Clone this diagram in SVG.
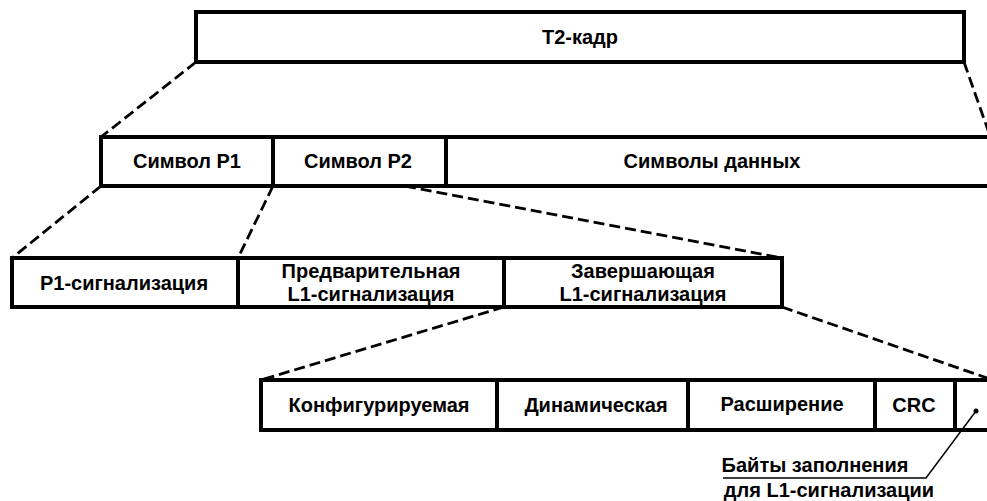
<svg xmlns="http://www.w3.org/2000/svg" width="987" height="501" viewBox="0 0 987 501">
<style>
.box{fill:#fff;stroke:#000;stroke-width:4}
.div{stroke:#000;stroke-width:4}
.dash{stroke:#000;stroke-width:2.8;stroke-dasharray:11 5;fill:none}
.t{font-family:"Liberation Sans",Arial,sans-serif;font-size:20px;font-weight:bold;text-anchor:middle;fill:#000}
.lead{stroke:#000;stroke-width:1.5;fill:none}
</style>
<rect width="987" height="501" fill="#fff"/>
<g id="connectors">
<line class="dash" x1="196" y1="62" x2="101" y2="137"/>
<line class="dash" x1="964" y1="62" x2="990" y2="136"/>
<line class="dash" x1="101" y1="186" x2="12" y2="258"/>
<line class="dash" x1="273" y1="186" x2="238" y2="258"/>
<line class="dash" x1="405" y1="186" x2="782" y2="258"/>
<line class="dash" x1="504" y1="307" x2="261" y2="380"/>
<line class="dash" x1="782" y1="307" x2="990" y2="379"/>
</g>
<g id="t2frame">
<rect class="box" x="196" y="12" width="768" height="50"/>
<text class="t" x="580" y="44">T2-кадр</text>
</g>
<g id="row2">
<rect class="box" x="101" y="137" width="900" height="49"/>
<line class="div" x1="273" y1="137" x2="273" y2="186"/>
<line class="div" x1="446" y1="137" x2="446" y2="186"/>
<g id="p1"><text class="t" x="187" y="168">Символ P1</text></g>
<g id="p2"><text class="t" x="358" y="168">Символ P2</text></g>
<g id="data"><text class="t" x="712" y="168">Символы данных</text></g>
</g>
<g id="row3">
<rect class="box" x="12" y="258" width="770" height="49"/>
<line class="div" x1="238" y1="258" x2="238" y2="307"/>
<line class="div" x1="504" y1="258" x2="504" y2="307"/>
<g id="p1sig"><text class="t" x="124" y="290">P1-сигнализация</text></g>
<g id="pre"><text class="t" x="371" y="278">Предварительная</text><text class="t" x="371" y="301">L1-сигнализация</text></g>
<g id="post"><text class="t" x="643" y="278">Завершающая</text><text class="t" x="643" y="301">L1-сигнализация</text></g>
</g>
<g id="row4">
<rect class="box" x="261" y="380" width="740" height="50"/>
<line class="div" x1="497" y1="380" x2="497" y2="430"/>
<line class="div" x1="688" y1="380" x2="688" y2="430"/>
<line class="div" x1="875" y1="380" x2="875" y2="430"/>
<line class="div" x1="955" y1="380" x2="955" y2="430"/>
<g id="conf"><text class="t" x="379" y="412">Конфигурируемая</text></g>
<g id="dyn"><text class="t" x="596" y="412">Динамическая</text></g>
<g id="ext"><text class="t" x="782" y="411">Расширение</text></g>
<g id="crc"><text class="t" x="914" y="412">CRC</text></g>
</g>
<g id="padding">
<circle cx="976" cy="411" r="2.5" fill="#000"/>
<polyline class="lead" points="976,411 926,478 723,478"/>
<text class="t" x="815" y="472">Байты заполнения</text>
<text class="t" x="829" y="497">для L1-сигнализации</text>
</g>
</svg>
